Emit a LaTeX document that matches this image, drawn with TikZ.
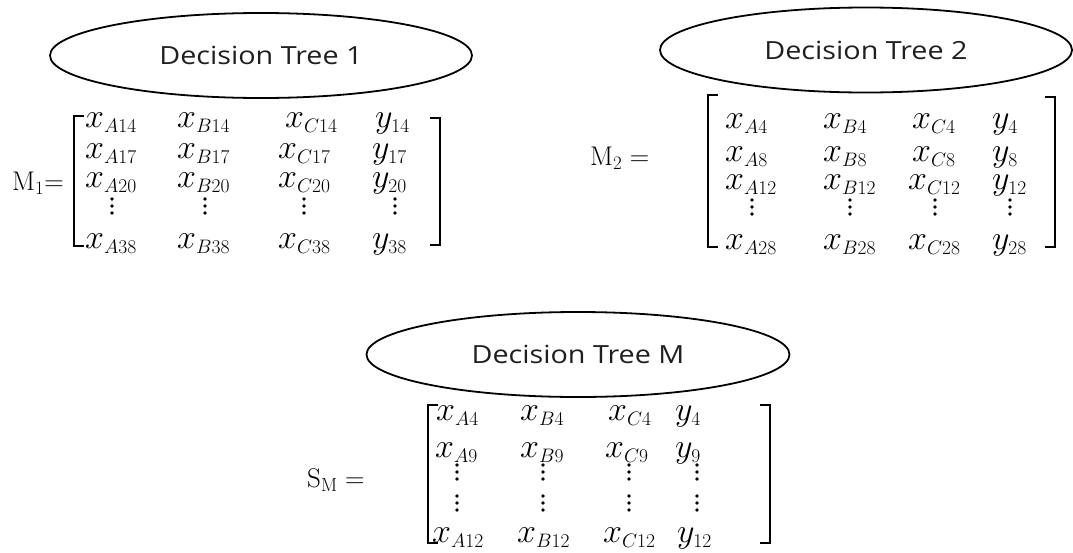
\documentclass[tikz,border=0pt]{standalone}
\usepackage{fix-cm}
\usepackage{fontspec}
\newfontfamily\treefont[FakeStretch=1.15]{Open Sans}
\usetikzlibrary{shapes.geometric}
% large main symbols with comparatively small subscripts in the matrices
\DeclareMathSizes{34}{34}{19.5}{14}

\begin{document}
\begin{tikzpicture}[x=1pt,y=-1pt,
  tree/.style={draw, line width=1.8pt, ellipse, inner sep=0pt,
    font=\treefont\fontsize{25}{30}\selectfont, text=black!88},
  entry/.style={anchor=base west, inner sep=0pt, font=\fontsize{34}{36}\selectfont},
  lbl/.style={anchor=base west, inner sep=0pt, font=\fontsize{27}{30}\selectfont},
  brk/.style={line width=2pt, line cap=rect},
  dot/.style={fill=black}]
\useasboundingbox (0,0) rectangle (1073,552);

% three vertical dots centred at (#1,#2)
\newcommand\colldots[2]{%
  \foreach \d in {-7,0,7} \fill[dot] (#1,#2+\d) circle (1.8pt);}
% square bracket: x, top, bottom, serif direction (+1 left bracket, -1 right)
\newcommand\sqbrk[4]{%
  \draw[brk] (#1+#4*9,#2) -- (#1,#2) -- (#1,#3) -- (#1+#4*9,#3);}

% ---------------- Decision Tree 1 ----------------
\node[tree, minimum width=422pt, minimum height=85pt] (t1) at (261,55.5) {Decision Tree 1};
\node[lbl] (m1lab) at (12,190) {$\mathrm{M}_1{=}$};
\sqbrk{74}{116}{246}{1}
\sqbrk{440}{118}{245}{-1}

\node[entry] (m1a1) at (85,127) {$x_{A14}$};
\node[entry] (m1b1) at (177,127) {$x_{B14}$};
\node[entry] (m1c1) at (285,127) {$x_{C14}$};
\node[entry] (m1y1) at (375,127) {$y_{14}$};
\node[entry] (m1a2) at (85,158) {$x_{A17}$};
\node[entry] (m1b2) at (177,158) {$x_{B17}$};
\node[entry] (m1c2) at (278,158) {$x_{C17}$};
\node[entry] (m1y2) at (372,158) {$y_{17}$};
\node[entry] (m1a3) at (85,187) {$x_{A20}$};
\node[entry] (m1b3) at (177,187) {$x_{B20}$};
\node[entry] (m1c3) at (278,187) {$x_{C20}$};
\node[entry] (m1y3) at (372,187) {$y_{20}$};
\colldots{112}{206}\colldots{205}{206}\colldots{304}{206}\colldots{395}{206}
\node[entry] (m1a5) at (85,248) {$x_{A38}$};
\node[entry] (m1b5) at (177,248) {$x_{B38}$};
\node[entry] (m1c5) at (278,248) {$x_{C38}$};
\node[entry] (m1y5) at (372,248) {$y_{38}$};

% ---------------- Decision Tree 2 ----------------
\node[tree, minimum width=412pt, minimum height=85pt] (t2) at (866,50) {Decision Tree 2};
\node[lbl] (m2lab) at (590,165) {$\mathrm{M}_2 =$};
\sqbrk{708}{95}{247}{1}
\sqbrk{1055}{97}{247}{-1}

\node[entry] (m2a1) at (725,128) {$x_{A4}$};
\node[entry] (m2b1) at (823,128) {$x_{B4}$};
\node[entry] (m2c1) at (912,128) {$x_{C4}$};
\node[entry] (m2y1) at (992,128) {$y_{4}$};
\node[entry] (m2a2) at (725,161) {$x_{A8}$};
\node[entry] (m2b2) at (823,161) {$x_{B8}$};
\node[entry] (m2c2) at (912,161) {$x_{C8}$};
\node[entry] (m2y2) at (992,161) {$y_{8}$};
\node[entry] (m2a3) at (725,189) {$x_{A12}$};
\node[entry] (m2b3) at (823,189) {$x_{B12}$};
\node[entry] (m2c3) at (908,189) {$x_{C12}$};
\node[entry] (m2y3) at (992,189) {$y_{12}$};
\colldots{752}{207}\colldots{850}{207}\colldots{935}{207}\colldots{1010}{207}
\node[entry] (m2a5) at (725,249) {$x_{A28}$};
\node[entry] (m2b5) at (823,249) {$x_{B28}$};
\node[entry] (m2c5) at (908,249) {$x_{C28}$};
\node[entry] (m2y5) at (992,249) {$y_{28}$};

% ---------------- Decision Tree M ----------------
\node[tree, minimum width=423pt, minimum height=85pt] (tm) at (578,354.5) {Decision Tree M};
\node[lbl] (smlab) at (307,487) {$\mathrm{S}_\mathrm{M} =$};
\sqbrk{428}{405}{543}{1}
\sqbrk{770}{405}{543}{-1}

\node[entry] (sma1) at (436,420) {$x_{A4}$};
\node[entry] (smb1) at (520,420) {$x_{B4}$};
\node[entry] (smc1) at (608,420) {$x_{C4}$};
\node[entry] (smy1) at (675,420) {$y_{4}$};
\node[entry] (sma2) at (435,457) {$x_{A9}$};
\node[entry] (smb2) at (520,457) {$x_{B9}$};
\node[entry] (smc2) at (605,457) {$x_{C9}$};
\node[entry] (smy2) at (675,457) {$y_{9}$};
\colldots{457}{472}\colldots{543}{472}\colldots{629}{472}\colldots{697}{472}
\colldots{457}{503}\colldots{543}{503}\colldots{629}{503}\colldots{697}{503}
\node[entry] (sma5) at (432,542) {$x_{A12}$};
\node[entry] (smb5) at (517,542) {$x_{B12}$};
\node[entry] (smc5) at (603,542) {$x_{C12}$};
\node[entry] (smy5) at (677,542) {$y_{12}$};
\end{tikzpicture}
\end{document}
